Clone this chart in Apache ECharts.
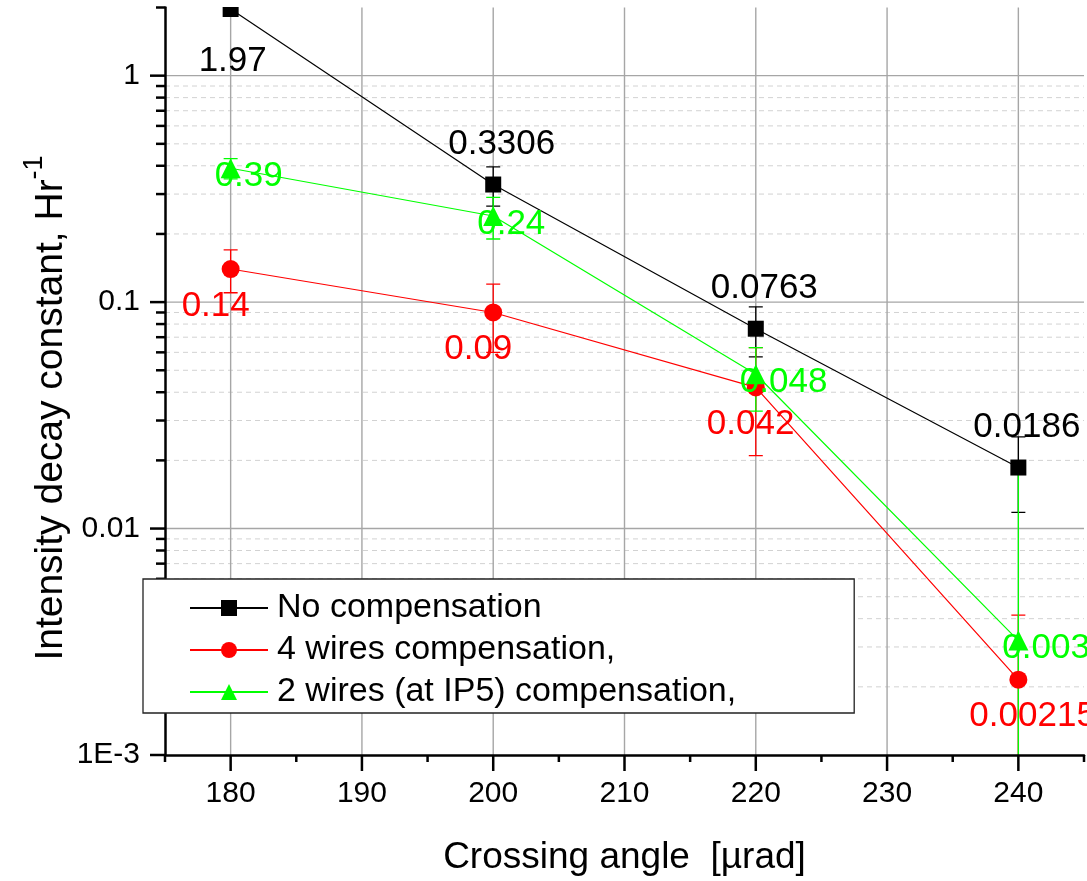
<!DOCTYPE html>
<html>
<head>
<meta charset="utf-8">
<script src="https://cdn.jsdelivr.net/npm/echarts@6/dist/echarts.min.js"></script>
<style>
  html, body { margin: 0; padding: 0; background: #ffffff; }
  #chart { width: 1087px; height: 881px; }
</style>
</head>
<body>
<div id="chart"></div>
<script>
// Crossing angle (µrad) and measured intensity decay constants (1/h)
const ANGLES = [180, 200, 220, 240];
const NO_COMP = [1.97, 0.3306, 0.0763, 0.0186];
const NO_COMP_ERR = [0, 0.065, 0.019, 0.0068];
const WIRES4 = [0.14, 0.09, 0.042, 0.00215];
const WIRES4_ERR = [0.03, 0.03, 0.021, 0.002];
const WIRES2 = [0.39, 0.24, 0.048, 0.0032];
const WIRES2_ERR = [0.04, 0.05, 0.015, 0.0154];

const SERIES_NAMES = ['No compensation', '4 wires compensation,', '2 wires (at IP5) compensation,'];

// Axis ranges and tick values
const X_MIN = 175, X_MAX = 245;
const X_MAJOR = [180, 190, 200, 210, 220, 230, 240];
const X_MINOR = [175, 185, 195, 205, 215, 225, 235, 245];
const Y_MIN = 0.001, Y_MAX = 2;
const Y_MAJOR = [0.001, 0.01, 0.1, 1];
const Y_TICK_LABELS = ['1E-3', '0.01', '0.1', '1'];
const Y_MINOR = [0.002, 0.003, 0.004, 0.005, 0.006, 0.007, 0.008, 0.009,
                 0.02, 0.03, 0.04, 0.05, 0.06, 0.07, 0.08, 0.09,
                 0.2, 0.3, 0.4, 0.5, 0.6, 0.7, 0.8, 0.9, 2];

const FONT = '"Liberation Sans", Arial, sans-serif';
const GRID_MAJOR = '#a6a6a6';
const GRID_MINOR = '#d2d2d2';
const BLACK = '#000000', RED = '#ff0000', GREEN = '#00ff00';

const chart = echarts.init(document.getElementById('chart'), null, { renderer: 'canvas' });

// Grid lines and outward ticks drawn through the axes' own scales
function renderFrame(params, api) {
  const children = [];
  const line = (a, b, style) => children.push({
    type: 'line', shape: { x1: a[0], y1: a[1], x2: b[0], y2: b[1] }, style: style, silent: true
  });
  const majorGrid = { stroke: GRID_MAJOR, lineWidth: 1.4 };
  const minorGrid = { stroke: GRID_MINOR, lineWidth: 1, lineDash: [5, 4] };
  const tick = { stroke: '#000', lineWidth: 2.5 };

  Y_MINOR.forEach(v => {
    const a = api.coord([X_MIN, v]), b = api.coord([X_MAX, v]);
    if (v < Y_MAX) line(a, b, minorGrid);
    line([a[0] - 9, a[1]], a, tick);
  });
  Y_MAJOR.forEach(v => {
    const a = api.coord([X_MIN, v]), b = api.coord([X_MAX, v]);
    if (v > Y_MIN) line(a, b, majorGrid);
    line([a[0] - 15, a[1]], a, tick);
  });
  X_MAJOR.forEach(v => {
    const a = api.coord([v, Y_MIN]), b = api.coord([v, Y_MAX]);
    line(a, b, majorGrid);
    line(a, [a[0], a[1] + 16], tick);
  });
  X_MINOR.forEach(v => {
    const a = api.coord([v, Y_MIN]);
    line(a, [a[0], a[1] + 7], tick);
  });
  return { type: 'group', children: children };
}

// Vertical error bars with caps
function errorSeries(values, errs, color) {
  const data = ANGLES.map((x, i) => [x, Math.max(values[i] - errs[i], 1e-6), values[i] + errs[i], errs[i]]);
  return {
    type: 'custom',
    coordinateSystem: 'cartesian2d',
    clip: true,
    silent: true,
    z: 2,
    encode: { x: 0, y: [1, 2] },
    data: data,
    renderItem: function (params, api) {
      if (api.value(3) <= 0) return null;
      const x = api.value(0);
      const lo = api.coord([x, api.value(1)]);
      const hi = api.coord([x, api.value(2)]);
      const cap = 7;
      const st = { stroke: color, lineWidth: 1.3 };
      return {
        type: 'group',
        children: [
          { type: 'line', shape: { x1: lo[0], y1: lo[1], x2: hi[0], y2: hi[1] }, style: st },
          { type: 'line', shape: { x1: hi[0] - cap, y1: hi[1], x2: hi[0] + cap, y2: hi[1] }, style: st },
          { type: 'line', shape: { x1: lo[0] - cap, y1: lo[1], x2: lo[0] + cap, y2: lo[1] }, style: st }
        ]
      };
    }
  };
}

function lineSeries(name, values, color, symbol, size, labelOffset, firstOffset) {
  return {
    name: name,
    type: 'line',
    z: 3,
    data: ANGLES.map((x, i) => {
      const item = { value: [x, values[i]] };
      if (i === 0 && firstOffset) item.label = { offset: firstOffset };
      return item;
    }),
    symbol: symbol,
    symbolSize: size,
    clip: false,
    lineStyle: { color: color, width: 1.2 },
    itemStyle: { color: color },
    label: {
      show: true,
      position: 'inside',
      align: 'left',
      verticalAlign: 'middle',
      offset: labelOffset,
      fontFamily: FONT,
      fontSize: 35,
      color: color,
      formatter: p => String(p.value[1])
    },
    emphasis: { disabled: true },
    animation: false
  };
}

const option = {
  backgroundColor: '#ffffff',
  animation: false,
  grid: { left: 165, right: 1, top: 7.5, bottom: 124, containLabel: false },
  xAxis: {
    type: 'value',
    min: X_MIN, max: X_MAX, interval: 5,
    z: 4,
    axisLine: { show: true, onZero: false, lineStyle: { color: '#000', width: 2.5 } },
    axisTick: { show: false },
    splitLine: { show: false },
    axisLabel: {
      margin: 24, fontFamily: FONT, fontSize: 30, color: '#000',
      formatter: v => (X_MAJOR.indexOf(v) >= 0 ? String(v) : '')
    },
    name: 'Crossing angle  [µrad]',
    nameLocation: 'middle',
    nameGap: 84,
    nameTextStyle: { fontFamily: FONT, fontSize: 37, color: '#000' }
  },
  yAxis: {
    type: 'log', logBase: 10,
    min: Y_MIN, max: Y_MAX,
    z: 4,
    axisLine: { show: true, onZero: false, lineStyle: { color: '#000', width: 2.5 } },
    axisTick: { show: false },
    splitLine: { show: false },
    minorTick: { show: false },
    axisLabel: {
      margin: 25, fontFamily: FONT, fontSize: 30, color: '#000',
      formatter: v => {
        const i = Y_MAJOR.findIndex(t => Math.abs(t - v) / t < 1e-6);
        return i >= 0 ? Y_TICK_LABELS[i] : '';
      }
    }
  },
  graphic: [
    {
      // plot area ends at the top of the axis; anything drawn above it is masked
      type: 'rect',
      shape: { x: 167, y: 0, width: 920, height: 7 },
      style: { fill: '#ffffff' },
      silent: true,
      z: 50
    },
    {
      type: 'text',
      x: 46, y: 408,
      rotation: Math.PI / 2,
      silent: true,
      style: {
        text: '{m|Intensity decay constant, Hr}{s|-1}',
        align: 'center',
        verticalAlign: 'middle',
        rich: {
          m: { fontFamily: FONT, fontSize: 39, fill: '#000', lineHeight: 50, verticalAlign: 'bottom' },
          s: { fontFamily: FONT, fontSize: 27, fill: '#000', lineHeight: 50, verticalAlign: 'top' }
        }
      }
    }
  ],
  legend: {
    data: SERIES_NAMES,
    orient: 'vertical',
    left: 143, top: 579,
    padding: [12, 118, 4, 46],
    itemGap: 8,
    itemWidth: 78,
    itemHeight: 20,
    backgroundColor: '#ffffff',
    borderColor: '#222',
    borderWidth: 1.3,
    borderRadius: 0,
    z: 10,
    selectedMode: false,
    textStyle: { fontFamily: FONT, fontSize: 34, color: '#000', padding: [0, 0, 0, 4] }
  },
  series: [
    {
      type: 'custom', coordinateSystem: 'cartesian2d', clip: false, silent: true, z: 1,
      data: [[X_MIN, Y_MIN]], renderItem: renderFrame
    },
    errorSeries(NO_COMP, NO_COMP_ERR, BLACK),
    lineSeries(SERIES_NAMES[0], NO_COMP, BLACK, 'rect', 16, [-45, -40], [-32, 52]),
    errorSeries(WIRES4, WIRES4_ERR, RED),
    lineSeries(SERIES_NAMES[1], WIRES4, RED, 'circle', 18, [-49, 37]),
    errorSeries(WIRES2, WIRES2_ERR, GREEN),
    lineSeries(SERIES_NAMES[2], WIRES2, GREEN, 'triangle', 20, [-16, 8])
  ]
};

chart.setOption(option);
</script>
</body>
</html>
